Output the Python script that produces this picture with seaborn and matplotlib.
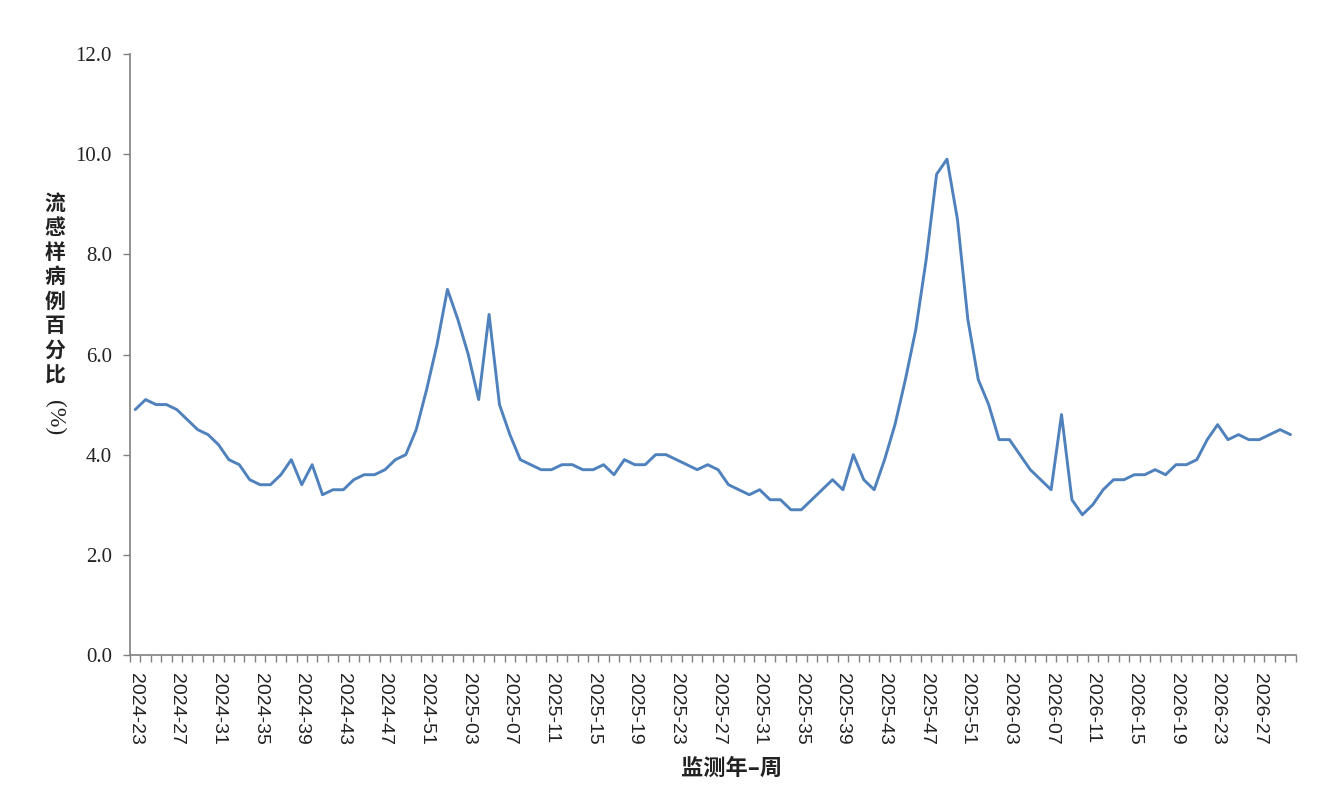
import numpy as np
import pandas as pd
import matplotlib
matplotlib.use('Agg')
import matplotlib.pyplot as plt
import seaborn as sns

# semanas de 2024-23 a 2026-30 (52 semanas por ano)
semanas = ([f'2024-{w:02d}' for w in range(23, 53)]
           + [f'2025-{w:02d}' for w in range(1, 53)]
           + [f'2026-{w:02d}' for w in range(1, 31)])

# valores, por trecho
vals_2024 = [4.9, 5.1, 5.0, 5.0, 4.9, 4.7, 4.5, 4.4, 4.2, 3.9,
             3.8, 3.5, 3.4, 3.4, 3.6, 3.9, 3.4, 3.8, 3.2, 3.3,
             3.3, 3.5, 3.6, 3.6, 3.7, 3.9, 4.0, 4.5, 5.3, 6.2]
vals_2025 = [7.3, 6.7, 6.0, 5.1, 6.8, 5.0, 4.4, 3.9, 3.8, 3.7,
             3.7, 3.8, 3.8, 3.7, 3.7, 3.8, 3.6, 3.9, 3.8, 3.8,
             4.0, 4.0, 3.9, 3.8, 3.7, 3.8, 3.7, 3.4, 3.3, 3.2,
             3.3, 3.1, 3.1, 2.9, 2.9, 3.1, 3.3, 3.5, 3.3, 4.0,
             3.5, 3.3, 3.9, 4.6, 5.5, 6.5, 7.9, 9.6, 9.9, 8.7,
             6.7, 5.5]
vals_2026 = [5.0, 4.3, 4.3, 4.0, 3.7, 3.5, 3.3, 4.8, 3.1, 2.8,
             3.0, 3.3, 3.5, 3.5, 3.6, 3.6, 3.7, 3.6, 3.8, 3.8,
             3.9, 4.3, 4.6, 4.3, 4.4, 4.3, 4.3, 4.4, 4.5, 4.4]

df = pd.DataFrame({'semana': semanas, 'pct': vals_2024 + vals_2025 + vals_2026})

y_ticks = [0, 2, 4, 6, 8, 10, 12]
rotulo_y = '流感样病例百分比'
rotulo_x = '监测年–周'

sns.set_style('white')
plt.rcParams['font.family'] = ['Liberation Serif', 'DejaVu Sans']
cjk = ['Noto Sans CJK SC', 'DejaVu Sans']

fig = plt.figure(figsize=(13.18, 7.98), dpi=100)
ax = fig.add_axes([130 / 1318, 1 - 655 / 798, 1165.7 / 1318, 601 / 798])

sns.lineplot(data=df, x='semana', y='pct', sort=False, ax=ax,
             color='#4F81BD', linewidth=2.1)

n = len(df)
ax.set_xlim(-0.5, n - 0.5)
ax.set_ylim(0, 12)

# eixo x: rotulos a cada 4 semanas, marcas em cada semana
pos_rot = np.arange(0, n, 4)
ax.set_xticks(pos_rot)
ax.set_xticklabels([semanas[i] for i in pos_rot], rotation=270,
                   family=['Liberation Sans'], fontsize=14, color='#222222')
ax.set_xticks(np.arange(-0.5, n, 1), minor=True)
ax.tick_params(axis='x', which='major', length=0, pad=13)
ax.tick_params(axis='x', which='minor', length=5, width=1, color='#808080',
               direction='out', bottom=True)

ax.set_yticks(y_ticks)
ax.set_yticklabels([f'{v:.1f}' for v in y_ticks], fontsize=15, color='#222222')
ax.tick_params(axis='y', length=5, width=1, color='#808080', direction='out',
               left=True, pad=8)

for s in ['top', 'right']:
    ax.spines[s].set_visible(False)
for s in ['left', 'bottom']:
    ax.spines[s].set_color('#808080')
    ax.spines[s].set_linewidth(1.2)

ax.set_xlabel('')
ax.set_ylabel('')

# titulo do eixo x
fig.text(732 / 1318, 1 - 768 / 798, rotulo_x, ha='center', va='center',
         fontsize=16, fontweight='bold', color='#222222', family=cjk)

# titulo do eixo y em texto vertical
for k, ch in enumerate(rotulo_y):
    fig.text(55 / 1318, 1 - (203 + 24.6 * k) / 798, ch, ha='center',
             va='center', fontsize=15, fontweight='bold', color='#222222',
             family=cjk)
fig.text(55 / 1318, 1 - 418 / 798, '(%)', ha='center', va='center',
         rotation=270, fontsize=17, color='#222222',
         family=['Liberation Serif'])

fig.savefig('out.png', dpi=100)
